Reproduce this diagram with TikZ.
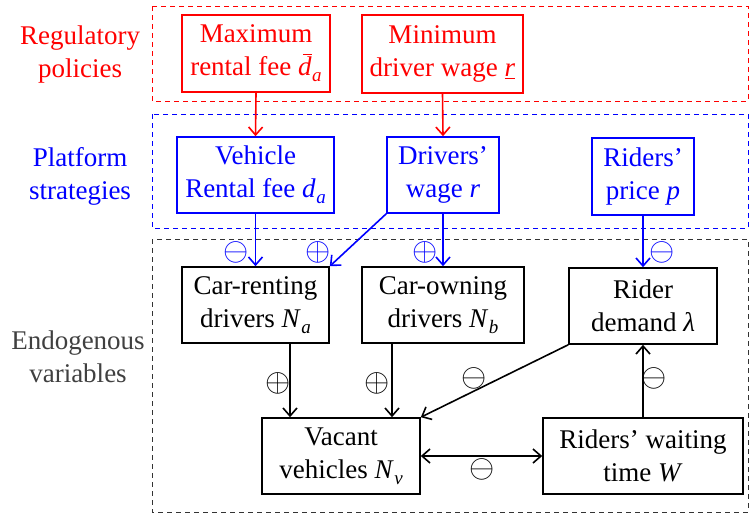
\documentclass[tikz,border=0pt]{standalone}
\usepackage{fix-cm}
\usepackage{fontspec}
\setmainfont{Liberation Serif}
\usetikzlibrary{arrows.meta}
\definecolor{endogray}{RGB}{64,64,64}
% italic variables set in the text font
\newcommand\var[1]{\textit{#1}}
\newcommand\subvar[2]{\textit{#1}\kern0.5pt\raisebox{-0.22em}{\fontsize{19}{19}\selectfont\textit{#2}}}
\newcommand\dbar{\makebox[0pt][l]{\kern0.17em\rule[0.76em]{0.36em}{0.045em}}\textit{d}}
\newcommand\signplus{\scalebox{1.35}{$\oplus$}}
\newcommand\signminus{\scalebox{1.35}{$\ominus$}}
\tikzset{
  every node/.style={font=\fontsize{27}{33}\selectfont},
  vbox/.style={draw, line width=1.6pt, inner sep=0pt, align=center},
  groupbox/.style={line width=1pt, dash pattern=on 5pt off 4pt},
  link/.style={line width=1.6pt, -{Straight Barb[length=8pt,width=14pt,line width=1.6pt]}},
  sign/.style={inner sep=0pt, font=\fontsize{24}{24}\selectfont}
}
\begin{document}
\begin{tikzpicture}[x=1pt,y=-1pt]
\useasboundingbox (0,0) rectangle (749,515);

% layer frames
\draw[groupbox, red] (152,6) rectangle (748,101);
\draw[groupbox, blue] (152,114) rectangle (748,228);
\draw[groupbox, black!80] (152,239) rectangle (748,512);

% layer titles
\node[red, align=center] (tpol) at (80,55) {Regulatory\\policies};
\node[blue, align=center] (tplat) at (80,176) {Platform\\strategies};
\node[endogray, align=center] (tendo) at (78,357) {Endogenous\\variables};

% regulatory policies
\node[vbox, red, minimum width=148pt, minimum height=77pt] (maxfee) at (256,53.5)
  {Maximum\\rental fee \subvar{\dbar}{a}};
\node[vbox, red, minimum width=161pt, minimum height=78pt] (minwage) at (442.5,54)
  {Minimum\\driver wage \underline{\var{r}}};

% platform strategies
\node[vbox, blue, minimum width=157pt, minimum height=76pt] (rent) at (255.5,175)
  {Vehicle\\Rental fee \subvar{d}{a}};
\node[vbox, blue, minimum width=112pt, minimum height=76pt] (wage) at (443,175)
  {Drivers’\\wage \var{r}};
\node[vbox, blue, minimum width=102pt, minimum height=77pt] (price) at (643,176.5)
  {Riders’\\price \var{p}};

% endogenous variables
\node[vbox, minimum width=147pt, minimum height=76pt] (Na) at (255.5,305)
  {Car-renting\\drivers \subvar{N}{a}};
\node[vbox, minimum width=162pt, minimum height=76pt] (Nb) at (443,305)
  {Car-owning\\drivers \subvar{N}{b}};
\node[vbox, minimum width=148pt, minimum height=76pt] (lam) at (643,306)
  {Rider\\demand \var{λ}};
\node[vbox, minimum width=158pt, minimum height=76pt] (Nv) at (341,456)
  {Vacant\\vehicles \subvar{N}{v}};
\node[vbox, minimum width=200pt, minimum height=76pt] (W) at (643,456)
  {Riders’ waiting\\time \var{W}};

\coordinate (xna) at (290,0);
\coordinate (xnb) at (392,0);

% policy links
\draw[link, red] (maxfee.south) -- (rent.north);
\draw[link, red] (minwage.south) -- (wage.north);

% strategy links
\draw[link, blue] (rent.south) -- (Na.north);
\draw[link, blue] (wage.south west) -- (Na.north east);
\draw[link, blue] (wage.south) -- (Nb.north);
\draw[link, blue] (price.south) -- (lam.north);

% endogenous links
\draw[link] (Na.south -| xna) -- (Nv.north -| xna);
\draw[link] (Nb.south -| xnb) -- (Nv.north -| xnb);
\draw[link] (lam.south west) -- (Nv.north east);
\draw[link] (W.north) -- (lam.south);
\draw[line width=1.6pt, {Straight Barb[length=8pt,width=14pt,line width=1.6pt]}-{Straight Barb[length=8pt,width=14pt,line width=1.6pt]}] (Nv.east) -- (W.west);

% signs
\node[sign, blue] (s1) at (236,252) {\signminus};
\node[sign, blue] (s2) at (318,252) {\signplus};
\node[sign, blue] (s3) at (425,252) {\signplus};
\node[sign, blue] (s4) at (662,252) {\signminus};
\node[sign] (s5) at (278,383) {\signplus};
\node[sign] (s6) at (377,383) {\signplus};
\node[sign] (s7) at (474,378) {\signminus};
\node[sign] (s8) at (654,378) {\signminus};
\node[sign] (s9) at (482,469) {\signminus};
\end{tikzpicture}
\end{document}
